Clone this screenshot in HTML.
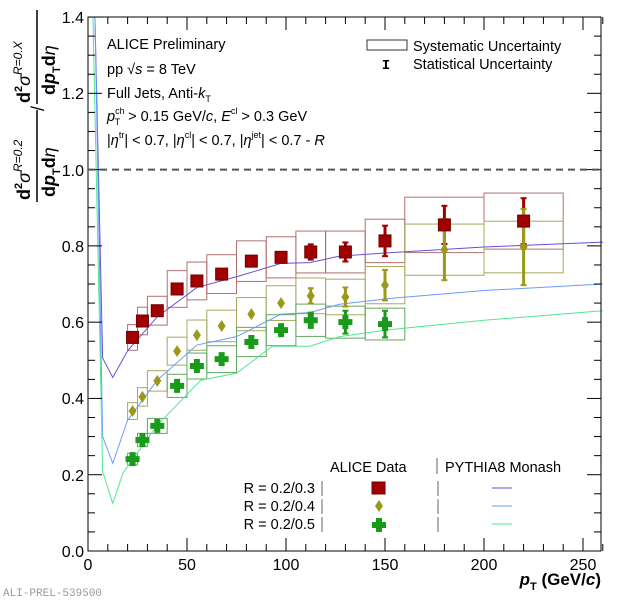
<!DOCTYPE html>
<html><head><meta charset="utf-8"><style>
html,body{margin:0;padding:0;background:#fff;}
svg{display:block;font-family:"Liberation Sans",sans-serif;}
</style></head><body>
<svg id="s" width="620" height="601" viewBox="0 0 620 601" xmlns="http://www.w3.org/2000/svg">
<rect width="620" height="601" fill="#fff"/>
<g id="plot"></g>
<rect x="88" y="17" width="513" height="534" fill="none" stroke="#000" stroke-width="1"/>
<g id="ticks" stroke="#000" stroke-width="1"></g>
<line x1="88" y1="169.6" x2="601" y2="169.6" stroke="#555" stroke-width="2" stroke-dasharray="7,5"/>
<g font-size="16" text-anchor="end" fill="#000">
<text x="84" y="557">0.0</text><text x="84" y="481">0.2</text><text x="84" y="404">0.4</text>
<text x="84" y="328">0.6</text><text x="84" y="252">0.8</text><text x="84" y="176">1.0</text>
<text x="84" y="99">1.2</text><text x="84" y="23">1.4</text>
</g>
<g font-size="16" text-anchor="middle" fill="#000">
<text x="88" y="570">0</text><text x="187" y="570">50</text><text x="286" y="570">100</text>
<text x="385" y="570">150</text><text x="484" y="570">200</text><text x="583" y="570">250</text>
</g>
<text x="601" y="585" font-size="17" font-weight="bold" text-anchor="end"><tspan font-style="italic">p</tspan><tspan font-size="11" dy="5">T</tspan><tspan dy="-5"> (GeV/</tspan><tspan font-style="italic">c</tspan>)</text>
<text x="3" y="596" font-family="Liberation Mono,monospace" font-size="11" fill="#999">ALI-PREL-539500</text>
<g transform="translate(40,300) rotate(-90)" font-weight="bold" fill="#000">
<text x="100" y="-10" font-size="18">d<tspan font-size="11" dy="-8">2</tspan><tspan font-weight="normal" font-style="italic" dy="8">σ</tspan><tspan font-weight="normal" font-style="italic" font-size="12" dy="-8">R=0.2</tspan></text>
<line x1="98" y1="-3" x2="190" y2="-3" stroke="#000" stroke-width="1.5"/>
<text x="103" y="15" font-size="18">d<tspan font-style="italic">p</tspan><tspan font-size="11" dy="5">T</tspan><tspan dy="-5">d</tspan><tspan font-weight="normal" font-style="italic">η</tspan></text>
<text x="189" y="4" font-size="18" font-weight="normal">/</text>
<text x="197" y="-10" font-size="18">d<tspan font-size="11" dy="-8">2</tspan><tspan font-weight="normal" font-style="italic" dy="8">σ</tspan><tspan font-weight="normal" font-style="italic" font-size="12" dy="-8">R=0.X</tspan></text>
<line x1="196" y1="-3" x2="290" y2="-3" stroke="#000" stroke-width="1.5"/>
<text x="205" y="15" font-size="18">d<tspan font-style="italic">p</tspan><tspan font-size="11" dy="5">T</tspan><tspan dy="-5">d</tspan><tspan font-weight="normal" font-style="italic">η</tspan></text>
</g>
<g font-size="14.5" fill="#000">
<text x="107" y="49">ALICE Preliminary</text>
<text x="107" y="74">pp √<tspan font-style="italic">s</tspan> = 8 TeV</text>
<text x="107" y="98">Full Jets, Anti-<tspan font-style="italic">k</tspan><tspan font-size="9" dy="4">T</tspan></text>
<text x="107" y="121"><tspan font-style="italic">p</tspan><tspan font-size="9" dy="-7">ch</tspan><tspan font-size="9" dx="-10" dy="11">T</tspan><tspan dy="-4" dx="4"> &gt; 0.15 GeV/</tspan><tspan font-style="italic">c</tspan>, <tspan font-style="italic">E</tspan><tspan font-size="9" dy="-7">cl</tspan><tspan dy="7"> &gt; 0.3 GeV</tspan></text>
<text x="107" y="145">|<tspan font-style="italic">η</tspan><tspan font-size="9" dy="-7">tr</tspan><tspan dy="7">| &lt; 0.7, |</tspan><tspan font-style="italic">η</tspan><tspan font-size="9" dy="-7">cl</tspan><tspan dy="7">| &lt; 0.7, |</tspan><tspan font-style="italic">η</tspan><tspan font-size="9" dy="-7">jet</tspan><tspan dy="7">| &lt; 0.7 - </tspan><tspan font-style="italic">R</tspan></text>
</g>
<rect x="367" y="40" width="40" height="10" fill="none" stroke="#333"/>
<text x="413" y="51" font-size="14.5">Systematic Uncertainty</text>
<text x="386" y="69" font-size="14" font-weight="bold" font-family="Liberation Mono,monospace" text-anchor="middle">I</text>
<text x="413" y="69" font-size="14.5">Statistical Uncertainty</text>
<g font-size="14.5" fill="#000">
<text x="330" y="472">ALICE Data</text>
<text x="445" y="472">PYTHIA8 Monash</text>
<text x="315" y="493" text-anchor="end">R = 0.2/0.3</text>
<text x="315" y="511" text-anchor="end">R = 0.2/0.4</text>
<text x="315" y="529" text-anchor="end">R = 0.2/0.5</text>
</g>
<g stroke="#666" stroke-width="1">
<line x1="437" y1="458" x2="437" y2="474"/>
<line x1="322" y1="481" x2="322" y2="496"/><line x1="322" y1="499" x2="322" y2="514"/><line x1="322" y1="517" x2="322" y2="532"/>
<line x1="438" y1="481" x2="438" y2="496"/><line x1="438" y1="499" x2="438" y2="514"/><line x1="438" y1="517" x2="438" y2="532"/>
</g>
<rect x="372" y="482" width="13" height="12" fill="#a00000" stroke="#700000"/>
<polygon points="379,500 383,506 379,512 375,506" fill="#9a9a1a"/>
<path d="M376,518h6v4h4v6h-4v4h-6v-4h-4v-6h4z" fill="#1a9a1a"/>
<line x1="492" y1="488" x2="512" y2="488" stroke="#6a50d0"/>
<line x1="492" y1="506" x2="512" y2="506" stroke="#6a9aff"/>
<line x1="492" y1="524" x2="512" y2="524" stroke="#50e890"/>
</svg>
<script>
const NS="http://www.w3.org/2000/svg";
const X=v=>88+v*1.98, Y=v=>551-v*381.4;
const plot=document.getElementById('plot'), ticks=document.getElementById('ticks');
function el(t,a,p){const e=document.createElementNS(NS,t);for(const k in a)e.setAttribute(k,a[k]);(p||plot).appendChild(e);return e;}
for(let v=0;v<=260;v+=10){const x=X(v),L=(v%50==0)?13:7;
 el('line',{x1:x,y1:551,x2:x,y2:551-L},ticks);el('line',{x1:x,y1:17,x2:x,y2:17+L},ticks);}
for(let i=0;i<=28;i++){const y=Y(i*0.05),L=(i%4==0)?14:7;
 el('line',{x1:88,y1:y,x2:88+L,y2:y},ticks);el('line',{x1:601,y1:y,x2:601-L,y2:y},ticks);}
const edges=[20,25,30,40,50,60,75,90,105,120,140,160,200,240];
const red=[.56,.603,.63,.687,.708,.726,.76,.77,.784,.784,.813,.855,.865];
const ol=[.367,.404,.446,.524,.566,.59,.621,.65,.669,.666,.697,.79,.797];
const gr=[.241,.291,.328,.433,.485,.503,.548,.579,.605,.6,.595];
const stR=[0,0,0,0,0,0,0,0,.02,.025,.04,.05,.06];
const stO=[0,0,0,0,0,0,0,0,.02,.025,.04,.08,.1];
const stG=[0,0,0,0,0,0,0,0,.02,.03,.035];
function boxes(vals,rel,col){vals.forEach((v,i)=>{const e=Math.max(v*(i<3?0.06:(i>10?0.085:0.07)),0.015);
 el('rect',{x:X(edges[i]),y:Y(v+e),width:X(edges[i+1])-X(edges[i]),height:Y(v-e)-Y(v+e),fill:'none',stroke:col,'stroke-width':1});});}
boxes(red,0,'#b07070');boxes(ol,0,'#a8a860');boxes(gr,0,'#60a860');
function line(pts,col){el('polyline',{points:pts.map(p=>X(p[0])+','+Y(p[1])).join(' '),fill:'none',stroke:col,'stroke-width':1});}
line([[3.5,1.4],[7.4,.506],[12.5,.455],[20,.525],[35,.614],[55,.691],[75,.719],[97.5,.754],[112,.756],[127,.773],[152,.782],[200,.797],[260,.81]],'#6a50d0');
line([[3.5,1.4],[7.4,.30],[12.5,.23],[20,.343],[35,.448],[55,.54],[75,.562],[97.5,.621],[112,.625],[127,.647],[152,.662],[200,.683],[260,.70]],'#6a9aff');
line([[2.5,1.4],[7.4,.208],[12.5,.125],[17.7,.205],[35,.33],[57,.448],[75,.466],[93,.537],[112,.537],[127,.562],[152,.58],[200,.605],[260,.63]],'#50e890');
function errs(vals,st,col){vals.forEach((v,i)=>{if(st[i]>0){const x=X((edges[i]+edges[i+1])/2);
 el('line',{x1:x,y1:Y(v+st[i]),x2:x,y2:Y(v-st[i]),stroke:col,'stroke-width':3});
 el('line',{x1:x-3,y1:Y(v+st[i]),x2:x+3,y2:Y(v+st[i]),stroke:col,'stroke-width':2});
 el('line',{x1:x-3,y1:Y(v-st[i]),x2:x+3,y2:Y(v-st[i]),stroke:col,'stroke-width':2});}});}
errs(red,stR,'#a00000');errs(ol,stO,'#9a9a1a');errs(gr,stG,'#1a9a1a');
red.forEach((v,i)=>{const x=X((edges[i]+edges[i+1])/2),y=Y(v);el('rect',{x:x-6,y:y-6,width:12,height:12,fill:'#a00000',stroke:'#700000'});});
ol.forEach((v,i)=>{const x=X((edges[i]+edges[i+1])/2),y=Y(v);el('polygon',{points:`${x},${y-6} ${x+4},${y} ${x},${y+6} ${x-4},${y}`,fill:'#9a9a1a'});});
gr.forEach((v,i)=>{const x=X((edges[i]+edges[i+1])/2),y=Y(v);el('path',{d:`M${x-3},${y-7}h6v4h4v6h-4v4h-6v-4h-4v-6h4z`,fill:'#1a9a1a'});});
</script>
</body></html>
